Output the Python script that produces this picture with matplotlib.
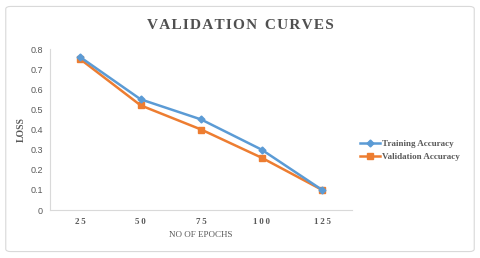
import matplotlib
matplotlib.use('Agg')
import matplotlib.pyplot as plt
from matplotlib.patches import FancyBboxPatch

epochs = ['25', '50', '75', '100', '125']
training = [0.76, 0.55, 0.45, 0.30, 0.10]
validation = [0.75, 0.52, 0.40, 0.26, 0.10]
yticks = [0, 0.1, 0.2, 0.3, 0.4, 0.5, 0.6, 0.7, 0.8]

blue = '#5B9BD5'
orange = '#ED7D31'
grey_text = '#595959'

fig = plt.figure(figsize=(4.8, 2.58), dpi=100)
fig.patch.set_facecolor('white')

# chart border
border = FancyBboxPatch((0.012, 0.025), 0.976, 0.95, boxstyle='round,pad=0,rounding_size=0.01',
                        transform=fig.transFigure, facecolor='none', edgecolor='#D9D9D9', lw=0.8)
fig.patches.append(border)

ax = fig.add_axes([0.104, 0.186, 0.63, 0.624])
x = list(range(len(epochs)))
ax.plot(x, training, color=blue, lw=1.8, marker='D', ms=3.5, label='Training Accuracy', zorder=3)
ax.plot(x, validation, color=orange, lw=1.8, marker='s', ms=5, label='Validation Accuracy', zorder=2)

ax.set_xlim(-0.5, len(epochs) - 0.5)
ax.set_ylim(0, 0.8)
ax.set_yticks(yticks)
ax.set_yticklabels(['0' if v == 0 else f'{v:.1f}' for v in yticks],
                   fontsize=6.5, color=grey_text, family='Liberation Sans')
ax.set_xticks(x)
ax.set_xticklabels(['\u2009'.join(e) for e in epochs], fontsize=6.5, color=grey_text,
                   family='Liberation Serif', fontweight='bold')
ax.tick_params(length=0)
ax.tick_params(axis='x', pad=6)
ax.tick_params(axis='y', pad=5)
for s in ['top', 'right']:
    ax.spines[s].set_visible(False)
for s in ['left', 'bottom']:
    ax.spines[s].set_color('#D9D9D9')
    ax.spines[s].set_linewidth(0.8)

ax.set_ylabel('LOSS', fontsize=7, color=grey_text, family='Liberation Serif', fontweight='bold', labelpad=3)
ax.set_xlabel('NO OF EPOCHS', fontsize=6.5, color=grey_text, family='Liberation Serif', labelpad=3)

title = '  '.join('\u200a'.join(w) for w in ['VALIDATION', 'CURVES'])
fig.text(0.5, 0.9, title, ha='center', va='center',
         fontsize=11, fontweight='bold', color='#505050', family='Liberation Serif')

leg = ax.legend(loc='center left', bbox_to_anchor=(1.0, 0.37), frameon=False,
                prop={'family': 'Liberation Serif', 'weight': 'bold', 'size': 6.5},
                handlelength=2.2, handletextpad=0.2, labelspacing=0.55)
for t in leg.get_texts():
    t.set_color(grey_text)

fig.savefig('out.png', dpi=100)
